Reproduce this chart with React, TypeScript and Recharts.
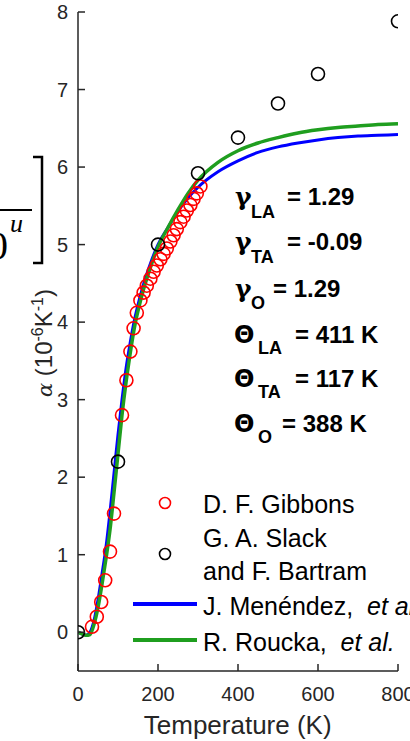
import React from "react";
import { ComposedChart, Line, Scatter, XAxis, YAxis } from "recharts";

// D. F. Gibbons measurements (red circles)
const gibbonsT = [35, 47, 58, 68, 80, 90, 110, 121, 131, 139, 147, 156, 164, 172, 181, 189, 197, 206, 214, 222, 231, 239, 247, 256, 264, 272, 281, 289, 297, 306];
const gibbonsAlpha = [0.07, 0.2, 0.39, 0.67, 1.04, 1.53, 2.8, 3.25, 3.62, 3.92, 4.12, 4.28, 4.38, 4.47, 4.56, 4.65, 4.73, 4.81, 4.88, 4.95, 5.04, 5.12, 5.2, 5.29, 5.36, 5.44, 5.51, 5.59, 5.66, 5.75];

// G. A. Slack and F. Bartram (black circles)
const slackT = [0, 100, 200, 300, 400, 500, 600, 800];
const slackAlpha = [0, 2.2, 5.0, 5.92, 6.38, 6.82, 7.2, 7.88];

// model curves
const curveT = [0, 10, 20, 30, 40, 50, 60, 70, 80, 90, 100, 110, 120, 130, 140, 160, 180, 200, 225, 250, 275, 300, 350, 400, 450, 500, 550, 600, 650, 700, 750, 800];
const menendezAlpha = [0, -0.02, -0.04, 0.0, 0.15, 0.42, 0.75, 1.1, 1.55, 2.05, 2.55, 3.0, 3.4, 3.72, 4.0, 4.42, 4.74, 5.0, 5.22, 5.43, 5.6, 5.74, 5.94, 6.08, 6.19, 6.26, 6.31, 6.35, 6.38, 6.4, 6.41, 6.42];
const rouckaAlpha = [0, -0.02, -0.04, -0.03, 0.1, 0.32, 0.62, 0.95, 1.32, 1.8, 2.3, 2.8, 3.22, 3.58, 3.9, 4.35, 4.69, 4.97, 5.22, 5.45, 5.66, 5.83, 6.06, 6.21, 6.31, 6.38, 6.44, 6.48, 6.51, 6.53, 6.55, 6.56];

const xTicks = [0, 200, 400, 600, 800];
const yTicks = [0, 1, 2, 3, 4, 5, 6, 7, 8];

const gibbons = gibbonsT.map((t, i) => ({ t, a: gibbonsAlpha[i] }));
const slack = slackT.map((t, i) => ({ t, a: slackAlpha[i] }));
const menendez = curveT.map((t, i) => ({ t, a: menendezAlpha[i] }));
const roucka = curveT.map((t, i) => ({ t, a: rouckaAlpha[i] }));

const AX = "#262626";
const FONT = "'Liberation Sans', Arial, sans-serif";
const RED = "#ff0000";
const BLUE = "#0000ff";
const GREEN = "#1f9e1f";

const LeftTick = ({ x, y, payload }: any) => (
  <g>
    <text x={x} y={y} dy={7} textAnchor="end" fontSize={20} fill={AX} fontFamily={FONT}>
      {payload.value}
    </text>
    <line x1={x + 10} x2={x + 17} y1={y} y2={y} stroke={AX} strokeWidth={1.5} />
  </g>
);

const RightTick = ({ x, y }: any) => (
  <line x1={x - 7} x2={x} y1={y} y2={y} stroke={AX} strokeWidth={1.5} />
);

const BottomTick = ({ x, y, payload }: any) => (
  <g>
    <text x={x} y={y} dy={14} textAnchor="middle" fontSize={20} fill={AX} fontFamily={FONT}>
      {payload.value}
    </text>
    <line x1={x} x2={x} y1={y - 16} y2={y - 23} stroke={AX} strokeWidth={1.5} />
  </g>
);

const TopTick = ({ x, y }: any) => (
  <line x1={x} x2={x} y1={y} y2={y + 7} stroke={AX} strokeWidth={1.5} />
);

const ring = (color: string) => (p: any) => (
  <circle cx={p.cx} cy={p.cy} r={6.5} fill="none" stroke={color} strokeWidth={1.6} />
);

const params = [
  { sym: "γ", sub: "LA", val: "= 1.29", y: 205, subX: 251, valX: 287, dy: 13 },
  { sym: "γ", sub: "TA", val: "= -0.09", y: 250, subX: 251, valX: 287, dy: 13 },
  { sym: "γ", sub: "O", val: "= 1.29", y: 297, subX: 251, valX: 273, dy: 12 },
  { sym: "Θ", sub: "LA", val: "= 411 K", y: 343, subX: 258, valX: 295, dy: 11 },
  { sym: "Θ", sub: "TA", val: "= 117 K", y: 387, subX: 258, valX: 295, dy: 11 },
  { sym: "Θ", sub: "O", val: "= 388 K", y: 432, subX: 258, valX: 282, dy: 11 },
];

export default function App() {
  return (
    <div style={{ position: "absolute", left: 0, top: 0, width: 410, height: 741, background: "#fff", overflow: "hidden" }}>
      <ComposedChart width={410} height={741} margin={{ top: 12, right: 12, bottom: 30, left: 0 }}>
        <XAxis
          xAxisId="b"
          dataKey="t"
          type="number"
          domain={[0, 800]}
          ticks={xTicks}
          interval={0}
          height={40}
          tickSize={0}
          tickMargin={16}
          tickLine={false}
          tick={<BottomTick />}
          axisLine={{ stroke: AX, strokeWidth: 1.5 }}
          allowDataOverflow
        />
        <XAxis
          xAxisId="t"
          orientation="top"
          dataKey="t"
          type="number"
          domain={[0, 800]}
          ticks={xTicks}
          interval={0}
          height={0}
          tickSize={0}
          tickMargin={0}
          tickLine={false}
          tick={<TopTick />}
          axisLine={{ stroke: AX, strokeWidth: 1.5 }}
          allowDataOverflow
        />
        <YAxis
          yAxisId="l"
          type="number"
          domain={[-0.5, 8]}
          ticks={yTicks}
          interval={0}
          width={78}
          tickSize={0}
          tickMargin={10}
          tickLine={false}
          tick={<LeftTick />}
          axisLine={{ stroke: AX, strokeWidth: 1.5 }}
          allowDataOverflow
        />
        <YAxis
          yAxisId="r"
          orientation="right"
          type="number"
          domain={[-0.5, 8]}
          ticks={yTicks}
          interval={0}
          width={0}
          tickSize={0}
          tickMargin={0}
          tickLine={false}
          tick={<RightTick />}
          axisLine={{ stroke: AX, strokeWidth: 1.5 }}
          allowDataOverflow
        />
        <Scatter xAxisId="b" yAxisId="l" data={gibbons} dataKey="a" shape={ring(RED)} isAnimationActive={false} />
        <Scatter xAxisId="b" yAxisId="l" data={slack} dataKey="a" shape={ring("#000")} isAnimationActive={false} />
        <Line xAxisId="b" yAxisId="l" data={menendez} dataKey="a" type="monotone" stroke={BLUE} strokeWidth={3} dot={false} isAnimationActive={false} />
        <Line xAxisId="b" yAxisId="l" data={roucka} dataKey="a" type="monotone" stroke={GREEN} strokeWidth={3.5} dot={false} isAnimationActive={false} />
      </ComposedChart>

      <svg width={410} height={741} style={{ position: "absolute", left: 0, top: 0, pointerEvents: "none" }}>
        {/* fragment of neighbouring formula */}
        <line x1={0} x2={32} y1={210} y2={210} stroke="#000" strokeWidth={2} />
        <text x={-12} y={259} fontSize={40} fontFamily="'Liberation Serif', serif" fill="#000">0</text>
        <text x={10} y={232} fontSize={26} fontStyle="italic" fontFamily="'Liberation Serif', serif" fill="#000">u</text>
        <path d="M33 157 H42 V263 H33" fill="none" stroke="#000" strokeWidth={2.5} />

        {/* axis labels */}
        <text x={237.7} y={734} textAnchor="middle" fontSize={26} fill={AX} fontFamily={FONT}>
          Temperature (K)
        </text>
        <text transform="rotate(-90 52 343)" x={52} y={343} textAnchor="middle" fontSize={24} fill={AX} fontFamily={FONT}>
          <tspan fontFamily="'DejaVu Serif', serif" fontStyle="italic" fontSize={21}>α</tspan>
          <tspan> (10</tspan>
          <tspan dy={-9} fontSize={16}>-6</tspan>
          <tspan dy={9}>K</tspan>
          <tspan dy={-9} fontSize={16}>-1</tspan>
          <tspan dy={9}>)</tspan>
        </text>

        {/* parameters */}
        {params.map((p) => (
          <text key={p.sub + p.y} y={p.y} fontSize={24} fontWeight="bold" fill="#000" fontFamily={FONT}>
            {p.sym === "γ" ? (
              <tspan x={235} fontFamily="'DejaVu Serif', serif" fontSize={25}>γ</tspan>
            ) : (
              <tspan x={234} fontFamily="'DejaVu Sans', sans-serif" fontSize={24}>Θ</tspan>
            )}
            <tspan x={p.subX} dy={p.dy} fontSize={18}>{p.sub}</tspan>
            <tspan x={p.valX} dy={-p.dy}>{p.val}</tspan>
          </text>
        ))}

        {/* legend */}
        <circle cx={165} cy={503} r={5.5} fill="none" stroke={RED} strokeWidth={1.6} />
        <text x={203} y={513} fontSize={25} fill="#000" fontFamily={FONT}>D. F. Gibbons</text>
        <circle cx={165} cy={554} r={5.5} fill="none" stroke="#000" strokeWidth={1.6} />
        <text x={203} y={547} fontSize={25} fill="#000" fontFamily={FONT}>G. A. Slack</text>
        <text x={203} y={580} fontSize={25} fill="#000" fontFamily={FONT}>and F. Bartram</text>
        <line x1={133} x2={197} y1={604} y2={604} stroke={BLUE} strokeWidth={4} />
        <text x={203} y={615} fontSize={25} fill="#000" fontFamily={FONT} style={{ whiteSpace: "pre" }}>
          J. Menéndez,  <tspan fontStyle="italic">et al.</tspan>
        </text>
        <line x1={133} x2={197} y1={640} y2={640} stroke={GREEN} strokeWidth={4} />
        <text x={203} y={651} fontSize={25} fill="#000" fontFamily={FONT} style={{ whiteSpace: "pre" }}>
          R. Roucka,  <tspan fontStyle="italic">et al.</tspan>
        </text>
      </svg>
    </div>
  );
}
